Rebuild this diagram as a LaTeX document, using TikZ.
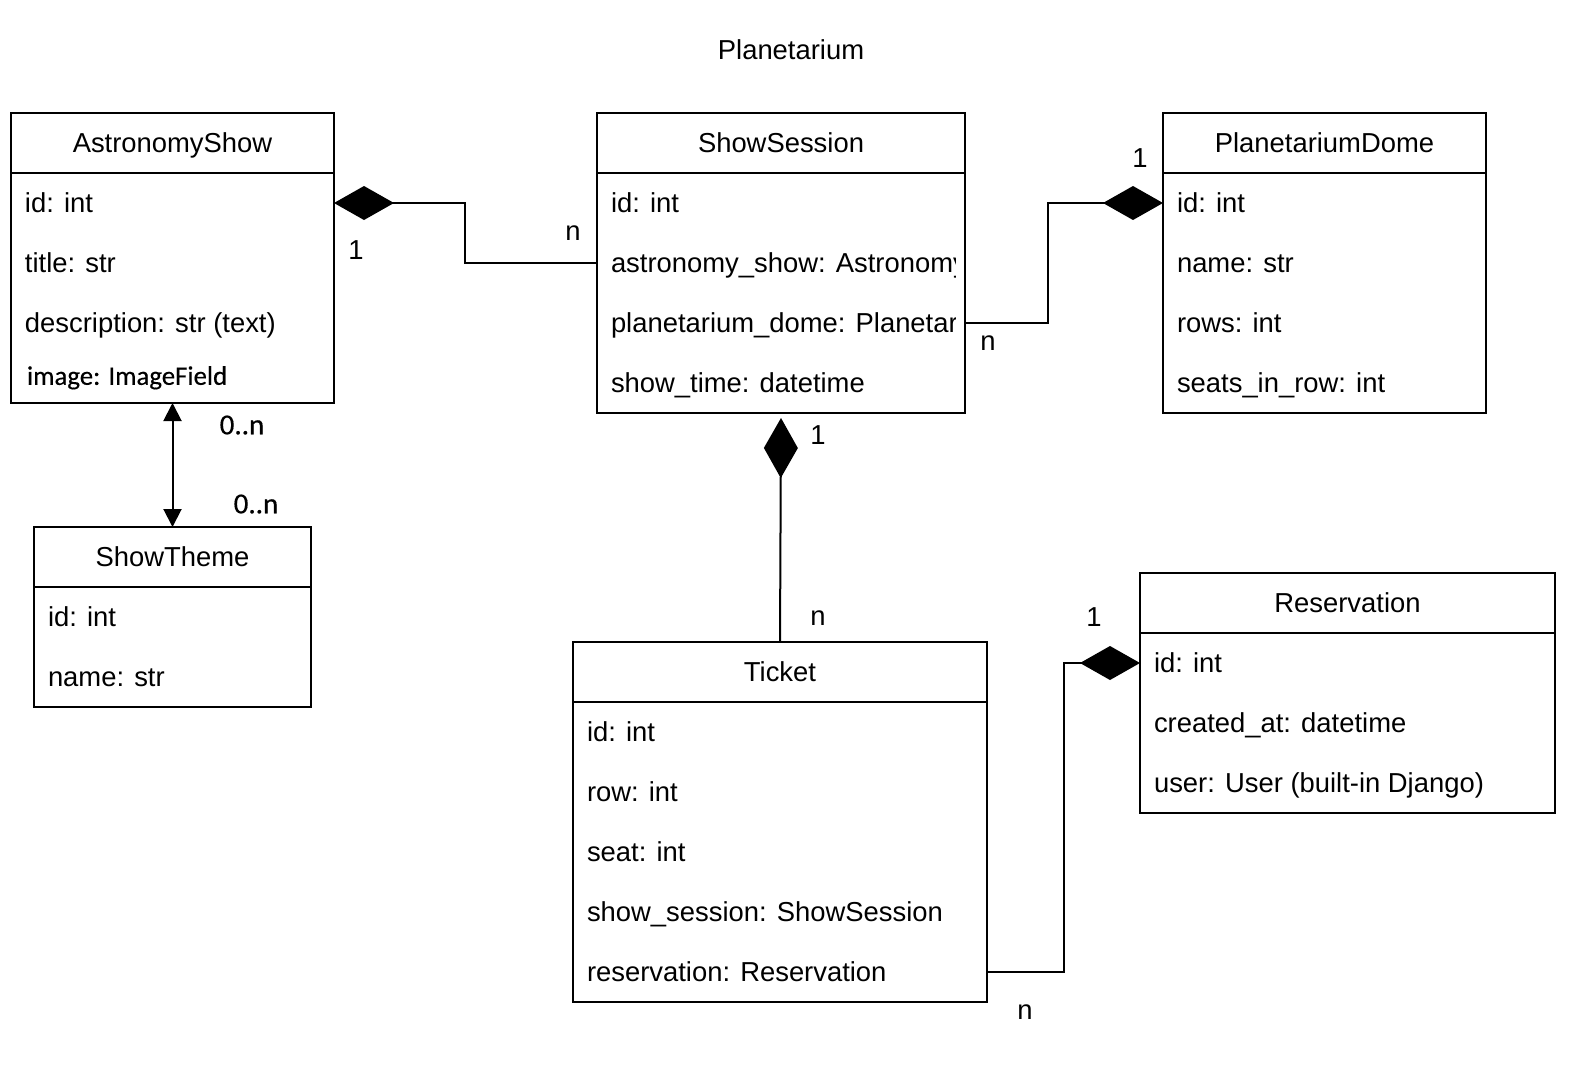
\documentclass[tikz,border=0pt]{standalone}
\usepackage{fontspec}
\setmainfont{Liberation Sans}
\newfontfamily\califont[FakeBold=0.4]{Carlito}
\usetikzlibrary{positioning,calc,arrows.meta,shapes}

\begin{document}
\begin{tikzpicture}[x=0.5pt, y=-0.5pt, line width=1pt,
  every node/.style={font=\fontsize{13.7}{16}\selectfont},
  head/.style={draw, minimum height=30pt, inner sep=0pt, outer sep=0pt, text height=9.8pt, text depth=0pt, anchor=north west},
  body/.style={draw, inner sep=0pt, outer sep=0pt},
  attr/.style={anchor=west, inner sep=0pt, text height=9.8pt, text depth=0pt},
  mult/.style={inner sep=0pt},
  calmult/.style={inner sep=0pt, font=\califont\fontsize{14.5}{16}\selectfont},
  comp/.style={-{Diamond[length=30pt,width=17pt]}},
  assoc/.style={{Triangle[length=9pt,width=9pt]}-{Triangle[length=9pt,width=9pt]}}]

  \useasboundingbox (0,0) rectangle (1583,1087);

  \node (title) at (791,50) {Planetarium};

  % classes
  \node[head, minimum width=161.5pt] (astro) at (11,113) {AstronomyShow};
  \node[body, minimum width=161.5pt, minimum height=115pt, below=0pt of astro] (astrobody) {};
  \foreach \a [count=\i] in {id: int, title: str, description: str (text)}
    \node[attr] (astro-\i) at ($(astrobody.north west)+(13,{60*\i-30})$) {\a};
  \node[attr, font=\califont\fontsize{13.4}{16}\selectfont] (astro-4) at ($(astrobody.north west)+(15,202)$) {image: ImageField};

  \node[head, minimum width=184pt] (sess) at (597,113) {ShowSession};
  \node[body, minimum width=184pt, minimum height=120pt, below=0pt of sess] (sessbody) {};
  \begin{scope}
    \clip (sessbody.north west) rectangle ([xshift=-5pt]sessbody.south east);
    \foreach \a [count=\i] in {id: int, astronomy\_show: Astronomy, planetarium\_dome: Planetar, show\_time: datetime}
      \node[attr] (sess-\i) at ($(sessbody.north west)+(13,{60*\i-30})$) {\a};
  \end{scope}

  \node[head, minimum width=161.5pt] (dome) at (1163,113) {PlanetariumDome};
  \node[body, minimum width=161.5pt, minimum height=120pt, below=0pt of dome] (domebody) {};
  \foreach \a [count=\i] in {id: int, name: str, rows: int, seats\_in\_row: int}
    \node[attr] (dome-\i) at ($(domebody.north west)+(13,{60*\i-30})$) {\a};

  \node[head, minimum width=138.5pt] (theme) at (34,527) {ShowTheme};
  \node[body, minimum width=138.5pt, minimum height=60pt, below=0pt of theme] (themebody) {};
  \foreach \a [count=\i] in {id: int, name: str}
    \node[attr] (theme-\i) at ($(themebody.north west)+(13,{60*\i-30})$) {\a};

  \node[head, minimum width=207pt] (ticket) at (573,642) {Ticket};
  \node[body, minimum width=207pt, minimum height=150pt, below=0pt of ticket] (ticketbody) {};
  \foreach \a [count=\i] in {id: int, row: int, seat: int, show\_session: ShowSession, reservation: Reservation}
    \node[attr] (ticket-\i) at ($(ticketbody.north west)+(13,{60*\i-30})$) {\a};

  \node[head, minimum width=207.5pt] (resv) at (1140,573) {Reservation};
  \node[body, minimum width=207.5pt, minimum height=90pt, below=0pt of resv] (resvbody) {};
  \foreach \a [count=\i] in {id: int, created\_at: datetime, user: User (built-in Django)}
    \node[attr] (resv-\i) at ($(resvbody.north west)+(13,{60*\i-30})$) {\a};

  % relations
  \draw[comp] (sessbody.west |- sess-2) -- ++(-132,0) |- (astrobody.east |- astro-1);
  \draw[comp] (sessbody.east |- sess-3) -- ++(83,0) |- (domebody.west |- dome-1);
  \draw[comp] (ticket.north) -- ([yshift=-2.5pt]sessbody.south);
  \draw[comp] (ticketbody.east |- ticket-5) -- ++(77,0) |- (resvbody.west |- resv-1);
  \draw[assoc] (astrobody.south) -- (theme.north);

  % multiplicities
  \node[mult] (m-astro) at (356,250) {1};
  \node[mult] (m-sess1) at (573,233) {n};
  \node[mult] (m-dome) at (1140,158) {1};
  \node[mult] (m-sess2) at (988,343) {n};
  \node[mult] (m-sess3) at (818,435) {1};
  \node[mult] (m-ticket1) at (818,618) {n};
  \node[mult] (m-resv) at (1094,617) {1};
  \node[mult] (m-ticket2) at (1025,1012) {n};
  \node[calmult] (m-theme1) at (242,425) {0..n};
  \node[calmult] (m-theme2) at (256,504) {0..n};
\end{tikzpicture}
\end{document}
